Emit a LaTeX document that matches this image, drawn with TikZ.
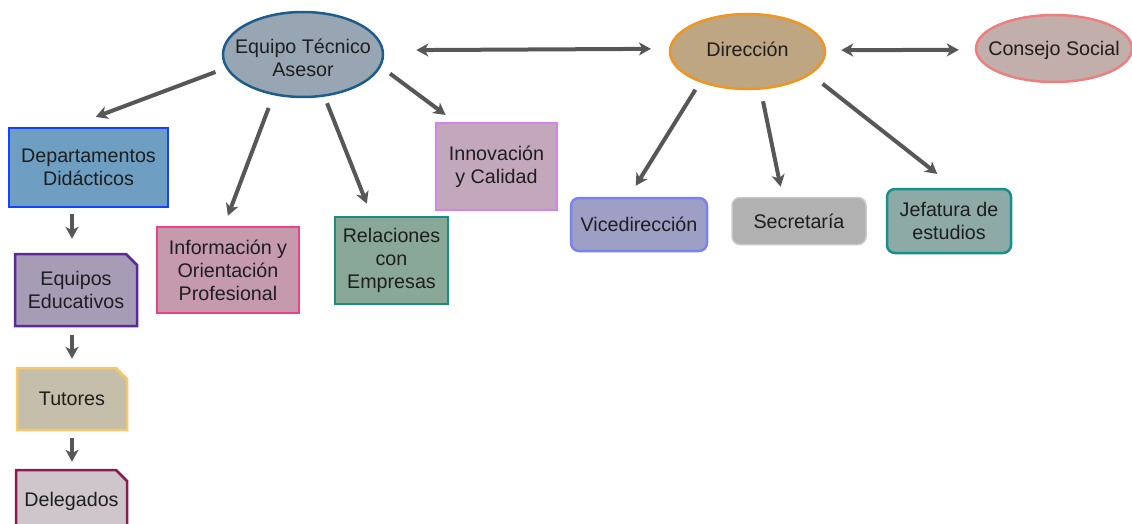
\documentclass[tikz,border=0pt]{standalone}
\usepackage{fontspec}
\setmainfont{Liberation Sans}
\usetikzlibrary{arrows.meta,shapes.geometric,shapes.misc}
\definecolor{txtc}{HTML}{1E1E1E}
\definecolor{arrc}{HTML}{575757}
\definecolor{eqF}{HTML}{98A6B3}\definecolor{eqD}{HTML}{1E5C8C}
\definecolor{diF}{HTML}{BEA682}\definecolor{diD}{HTML}{F0961E}
\definecolor{coF}{HTML}{C2AEAB}\definecolor{coD}{HTML}{EE7F7F}
\definecolor{deF}{HTML}{6E9FC3}\definecolor{deD}{HTML}{1443FF}
\definecolor{euF}{HTML}{A79CB6}\definecolor{euD}{HTML}{5B2A96}
\definecolor{tuF}{HTML}{C5BEAA}\definecolor{tuD}{HTML}{F7C96B}
\definecolor{dlF}{HTML}{CEC6CB}\definecolor{dlD}{HTML}{8A1C50}
\definecolor{inF}{HTML}{C49AAC}\definecolor{inD}{HTML}{EE3F8D}
\definecolor{reF}{HTML}{8AA898}\definecolor{reD}{HTML}{198E86}
\definecolor{noF}{HTML}{C3A8BD}\definecolor{noD}{HTML}{D482EE}
\definecolor{viF}{HTML}{9D9FC5}\definecolor{viD}{HTML}{7B82F0}
\definecolor{seF}{HTML}{B1B1B1}\definecolor{seD}{HTML}{C9C9C9}
\definecolor{jeF}{HTML}{8DAAA7}\definecolor{jeD}{HTML}{16908C}
\tikzset{
  every node/.style={font=\fontsize{19.7}{23}\selectfont, text=txtc, align=center, inner sep=0pt, line width=2.5pt},
  ell/.style={ellipse},
  box/.style={rectangle},
  rbox/.style={rectangle, rounded corners=8pt},
  cbox/.style={chamfered rectangle, chamfered rectangle corners=north east,
               chamfered rectangle xsep=5.5pt, chamfered rectangle ysep=5.5pt},
  conn/.style={draw=arrc, line width=4pt, -{Stealth[length=12pt,width=13pt,inset=3.5pt]}},
  dconn/.style={draw=arrc, line width=4pt, {Stealth[length=12pt,width=13pt,inset=3.5pt]}-{Stealth[length=12pt,width=13pt,inset=3.5pt]}},
}
\begin{document}
\begin{tikzpicture}[x=1pt,y=-1pt]
\useasboundingbox (0,0) rectangle (1132,524);
\clip (0,0) rectangle (1132,524);
% ellipses
\node[ell, fill=eqF, draw=eqD, minimum width=160pt, minimum height=85pt,
      label={[align=center,yshift=-3pt]center:Equipo Técnico\\Asesor}] (eq) at (303,54.5) {};
\node[ell, fill=diF, draw=diD, minimum width=155pt, minimum height=75pt,
      label={[yshift=2pt]center:Dirección}] (dir) at (747.5,51.5) {};
\node[ell, fill=coF, draw=coD, minimum width=156pt, minimum height=67pt,
      label={[yshift=-1.5pt]center:Consejo Social}] (cons) at (1054,48.5) {};
% left column
\node[box, fill=deF, draw=deD, minimum width=159pt, minimum height=79pt] (dep) at (88.5,167.5) {Departamentos\\Didácticos};
\node[cbox, fill=euF, draw=euD, minimum width=122pt, minimum height=72pt] (equ) at (76,290) {Equipos\\Educativos};
\node[cbox, fill=tuF, draw=tuD, minimum width=110pt, minimum height=62pt] (tut) at (72,399) {Tutores};
\node[cbox, fill=dlF, draw=dlD, minimum width=111pt, minimum height=62pt] (del) at (71.5,501) {Delegados};
% under Equipo Tecnico
\node[box, fill=inF, draw=inD, minimum width=142pt, minimum height=86pt] (info) at (228,270) {Información y\\Orientación\\Profesional};
\node[box, fill=reF, draw=reD, minimum width=113pt, minimum height=87pt] (rel) at (391.5,260.5) {Relaciones\\con\\Empresas};
\node[box, fill=noF, draw=noD, minimum width=121pt, minimum height=87pt] (inn) at (496.5,166.5) {Innovación\\y Calidad};
% under Direccion
\node[rbox, fill=viF, draw=viD, minimum width=136pt, minimum height=53pt] (vice) at (639,224.5) {Vicedirección};
\node[rbox, fill=seF, draw=seD, line width=1.5pt, minimum width=134pt, minimum height=47pt] (sec) at (799,221) {Secretaría};
\node[rbox, fill=jeF, draw=jeD, minimum width=124pt, minimum height=64pt] (jef) at (949,221) {Jefatura de\\estudios};
% connectors
\draw[conn, shorten <=11pt, shorten >=28pt] (eq.190.2) -- (dep.115.4);
\draw[conn, shorten <=13.6pt, shorten >=10.7pt] (eq.234.8) -- (info.95);
\draw[conn, shorten <=7pt, shorten >=12.9pt] (eq.297.6) -- (rel.114.5);
\draw[conn, shorten <=11.3pt, shorten >=11.4pt] (eq.351.4) -- (inn.133);
\draw[dconn, shorten <=32.5pt, shorten >=18pt] (eq.3.2) -- (dir.178.9);
\draw[dconn, shorten <=15pt, shorten >=16pt] (dir.1.1) -- (cons.181.1);
\draw[conn, shorten <=8.6pt, shorten >=12.9pt] (dir.213.3) -- (vice.110.4);
\draw[conn, shorten <=11.8pt, shorten >=10.2pt] (dir.289.7) -- (sec.124.3);
\draw[conn, shorten <=15pt, shorten >=22.3pt] (dir.340.7) -- (jef.80.6);
\draw[conn, shorten <=6pt, shorten >=14pt] (dep.south -| tut.north) -- (equ.north -| tut.north);
\draw[conn, shorten <=8pt, shorten >=8pt] (equ.south -| tut.north) -- (tut.north);
\draw[conn, shorten <=7pt, shorten >=7pt] (tut.south) -- (del.north -| tut.north);
\end{tikzpicture}
\end{document}
